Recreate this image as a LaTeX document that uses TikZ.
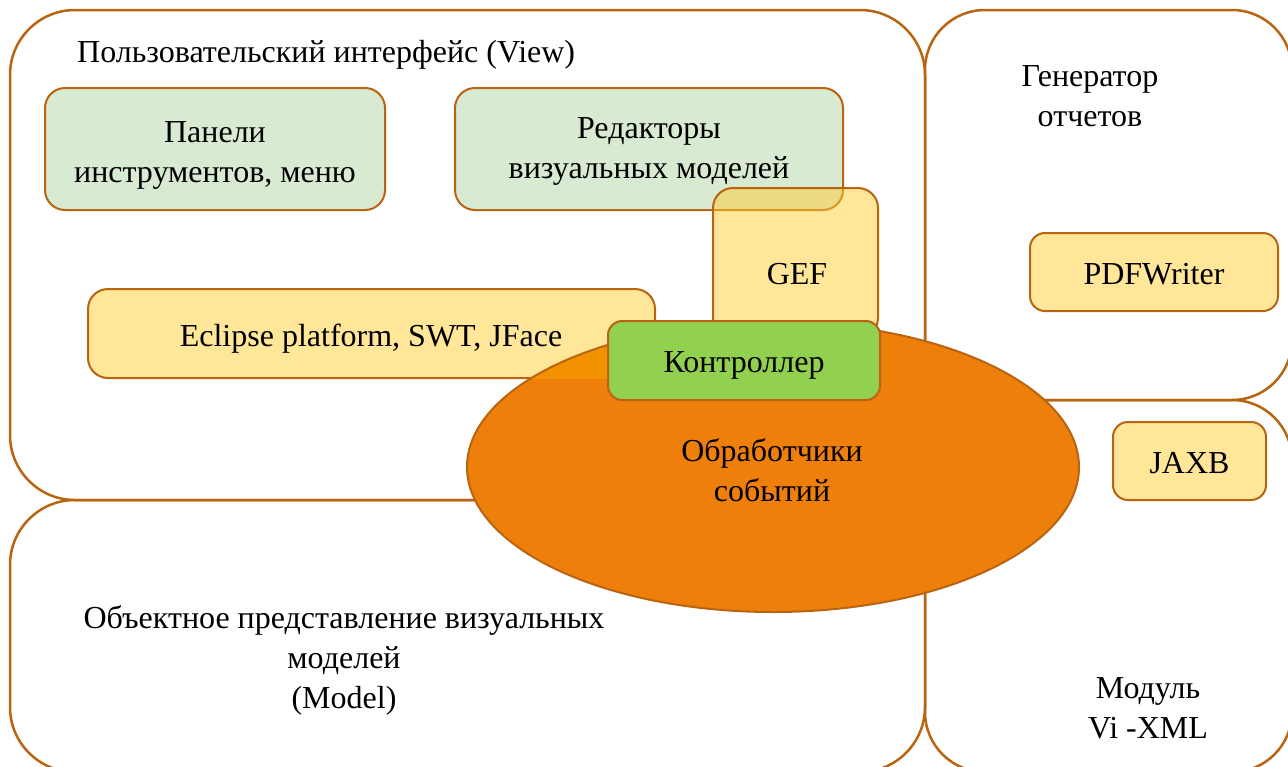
\documentclass[tikz,border=0pt]{standalone}
\usepackage{fontspec}
\setmainfont{Liberation Serif}
\usetikzlibrary{shapes.geometric}
\definecolor{edge}{RGB}{184,100,16}
\definecolor{lgreen}{RGB}{217,234,211}
\definecolor{lyellow}{RGB}{255,230,153}
\definecolor{gefyellow}{RGB}{255,205,51}
\definecolor{evorange}{RGB}{238,127,11}
\definecolor{evlight}{RGB}{243,146,0}
\definecolor{ctlgreen}{RGB}{146,208,80}
\tikzset{box/.style={draw=edge, line width=2pt, rounded corners=20pt, inner sep=0pt}}

\begin{document}
\begin{tikzpicture}[x=1pt, y=-1pt, font=\fontsize{32}{40}\selectfont,
  area/.style={box, line width=2.5pt, rounded corners=65pt},
  ui/.style={box, fill=lgreen},
  lib/.style={box, fill=lyellow},
  label/.style={align=center, yshift=-4pt}]
\clip (0,0) rectangle (1288,766);
% containers
\node[area, minimum width=915pt, minimum height=490pt] (view) at (467.5,255) {};
\node[area, rounded corners=60pt, minimum width=367pt, minimum height=390pt] (gen) at (1108.5,205) {};
\node[area, rounded corners=60pt, minimum width=367pt, minimum height=372pt] (xml) at (1108.5,586) {};
\node[area, minimum width=915pt, minimum height=272pt] (model) at (467.5,636) {};
% view parts
\node[ui, minimum width=340pt, minimum height=122pt] (tools) at (215,149) {};
\node[label] (toolstxt) at (215,151) {Панели\\инструментов, меню};
\node[ui, minimum width=388pt, minimum height=122pt] (editors) at (649,149) {};
\node[label] (editorstxt) at (649,147) {Редакторы\\визуальных моделей};
\node[lib, minimum width=567pt, minimum height=89pt] (eclipse) at (371.5,333.5) {};
\node[label] (eclipsetxt) at (371,335) {Eclipse platform, SWT, JFace};
% controller
\node[ellipse, fill=evorange, minimum width=612pt, minimum height=290pt, inner sep=0pt] (events) at (773,467) {};
\begin{scope}
  \clip (events.center) ellipse [x radius=306pt, y radius=145pt];
  \fill[evlight] (eclipse.south west) rectangle (eclipse.north east);
\end{scope}
\draw[edge, line width=2pt] (events.center) ellipse [x radius=306pt, y radius=145pt];
\node[box, fill=gefyellow, fill opacity=0.5, draw opacity=1, minimum width=165pt, minimum height=150pt] (gef) at (795.5,263) {};
\node[label] (geftxt) at (797,270) {GEF};
\node[box, rounded corners=14pt, fill=ctlgreen, minimum width=272pt, minimum height=79pt] (ctl) at (744,360.5) {};
\node[label] (ctltxt) at (744,361) {Контроллер};
\node[label] (eventstxt) at (772,466) {Обработчики\\событий};
% side modules
\node[lib, rounded corners=15pt, minimum width=248pt, minimum height=78pt] (pdf) at (1154,272) {};
\node[label] (pdftxt) at (1154,270) {PDFWriter};
\node[lib, rounded corners=15pt, minimum width=153pt, minimum height=78pt] (jaxb) at (1189.5,461) {};
\node[label] (jaxbtxt) at (1189.5,459) {JAXB};
% titles
\node[anchor=west, inner sep=0pt] (viewtxt) at (77,55) {Пользовательский интерфейс (View)};
\node[label] (gentxt) at (1090,92) {Генератор\\отчетов};
\node[label] (modeltxt) at (344,656) {Объектное представление визуальных\\моделей\\(Model)};
\node[label] (xmltxt) at (1148,704) {Модуль\\Vi -XML};
\end{tikzpicture}
\end{document}
